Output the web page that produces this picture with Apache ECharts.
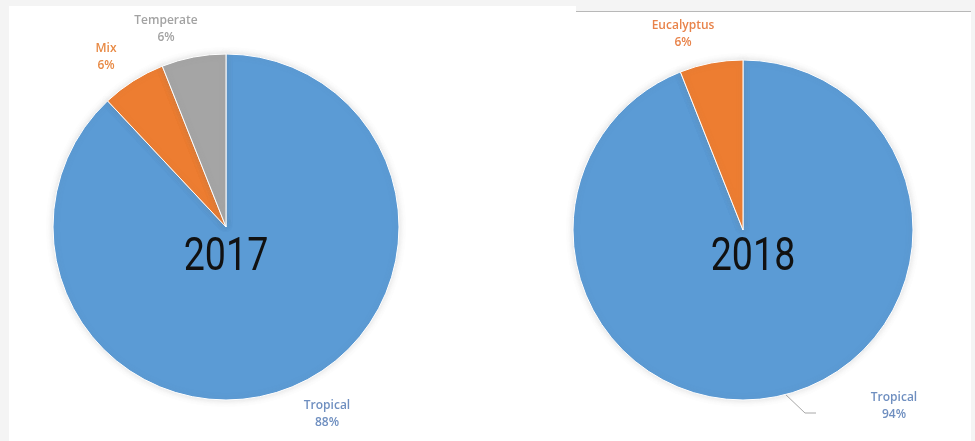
<!DOCTYPE html>
<html>
<head>
<meta charset="utf-8">
<script src="https://cdn.jsdelivr.net/npm/echarts@6/dist/echarts.min.js"></script>
<style>
html,body{margin:0;padding:0;background:#f4f4f4;}
#c{width:975px;height:441px;}
</style>
</head>
<body>
<div id="c"></div>
<script>
// Data
const cats2017 = ['Tropical', 'Mix', 'Temperate'];
const vals2017 = [88, 6, 6];
const cats2018 = ['Tropical', 'Eucalyptus'];
const vals2018 = [94, 6];
const years = ['2017', '2018'];

const sliceColors2017 = ['#5b9bd5', '#ed7d31', '#a5a5a5'];
const labelColors2017 = ['#6f8fc0', '#e88a45', '#a3a3a3'];
const sliceColors2018 = ['#5b9bd5', '#ed7d31'];
const labelColors2018 = ['#6f8fc0', '#e8834a'];

const labelPos = {
  '0-0': [327, 414.5], '0-1': [106, 57], '0-2': [166, 29],
  '1-0': [894, 406.5], '1-1': [683, 34.5]
};

function buildData(cats, vals, colors, lcolors, lineIdx) {
  return cats.map((n, i) => ({
    name: n, value: vals[i],
    itemStyle: { color: colors[i] },
    label: { color: lcolors[i] },
    labelLine: { show: i === lineIdx }
  }));
}

const chart = echarts.init(document.getElementById('c'), null, { renderer: 'canvas' });

const commonSeries = {
  type: 'pie',
  clockwise: true,
  startAngle: 90,
  avoidLabelOverlap: false,
  itemStyle: { borderColor: '#ffffff', borderWidth: 1, shadowBlur: 6, shadowColor: 'rgba(120,120,120,0.25)' },
  label: {
    show: true, position: 'outside', formatter: '{b}\n{c}%',
    fontFamily: 'Open Sans', fontSize: 12, fontWeight: 600, lineHeight: 17, align: 'center'
  },
  labelLine: { show: false, length: 5, length2: 5, lineStyle: { color: '#a8a8a8', width: 1 } },
  emphasis: { disabled: true },
  silent: true
};

const yearFont = '400 47px Roboto, "DejaVu Sans", sans-serif';

chart.setOption({
  backgroundColor: '#f4f4f4',
  animation: false,
  graphic: [
    { type: 'rect', shape: { x: 9, y: 6, width: 567, height: 435 }, style: { fill: '#ffffff' }, z: -10 },
    { type: 'rect', shape: { x: 575, y: 11, width: 396, height: 430 }, style: { fill: '#ffffff' }, z: -10 },
    { type: 'line', shape: { x1: 576, y1: 11.5, x2: 971, y2: 11.5 }, style: { stroke: '#b8b8b8', lineWidth: 1 }, z: -9 },
    { type: 'text', x: 226, y: 258, scaleX: 0.8, z: 100,
      style: { text: years[0], font: yearFont, fill: '#111111', align: 'center', verticalAlign: 'middle' } },
    { type: 'text', x: 753, y: 258, scaleX: 0.8, z: 100,
      style: { text: years[1], font: yearFont, fill: '#111111', align: 'center', verticalAlign: 'middle' } }
  ],
  series: [
    Object.assign({}, commonSeries, {
      center: [226, 227], radius: 173,
      data: buildData(cats2017, vals2017, sliceColors2017, labelColors2017, -1),
      labelLayout: function (p) {
        const pos = labelPos['0-' + p.dataIndex];
        return { x: pos[0], y: pos[1], align: 'center', verticalAlign: 'middle' };
      }
    }),
    Object.assign({}, commonSeries, {
      center: [743, 230], radius: 170,
      data: buildData(cats2018, vals2018, sliceColors2018, labelColors2018, 0),
      labelLayout: function (p) {
        const pos = labelPos['1-' + p.dataIndex];
        const r = { x: pos[0], y: pos[1], align: 'center', verticalAlign: 'middle' };
        if (p.dataIndex === 0) {
          r.labelLinePoints = [[784, 393], [805, 413], [816, 413]];
        }
        return r;
      }
    })
  ]
});
</script>
</body>
</html>
